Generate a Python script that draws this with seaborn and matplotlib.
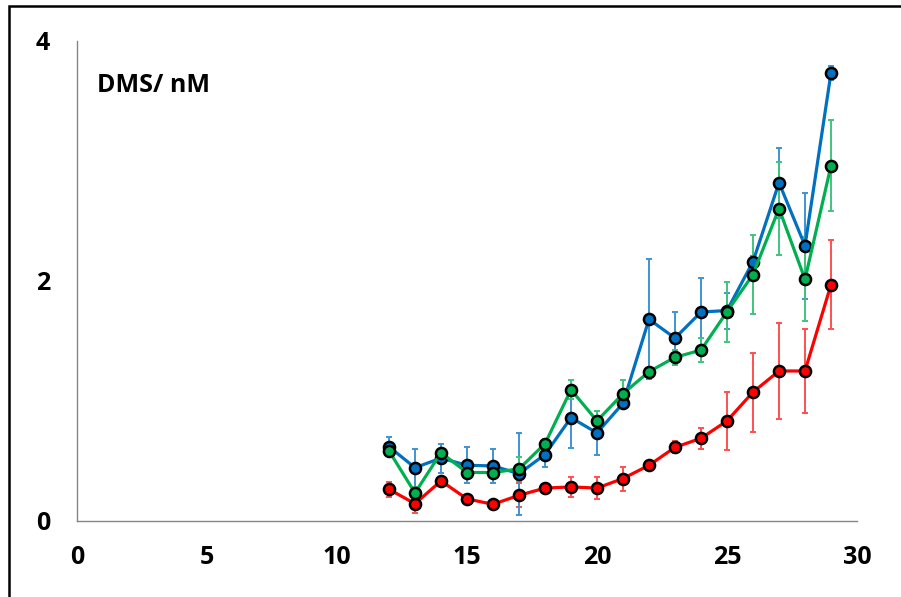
import matplotlib
matplotlib.use("Agg")
import matplotlib.pyplot as plt
import seaborn as sns
import pandas as pd
from matplotlib.patches import Rectangle

days = list(range(12, 30))
blue = [0.615, 0.44, 0.52, 0.46, 0.455, 0.39, 0.55, 0.857, 0.73, 0.977,
        1.677, 1.52, 1.737, 1.75, 2.157, 2.815, 2.29, 3.73]
blue_err = [0.08, 0.16, 0.12, 0.15, 0.14, 0.34, 0.10, 0.25, 0.18, 0.03,
            0.50, 0.22, 0.28, 0.15, 0.05, 0.29, 0.44, 0.06]
green = [0.58, 0.23, 0.565, 0.40, 0.40, 0.43, 0.64, 1.09, 0.83, 1.057,
         1.24, 1.36, 1.42, 1.74, 2.05, 2.60, 2.01, 2.957]
green_err = [0.04, 0.05, 0.03, 0.04, 0.04, 0.10, 0.04, 0.08, 0.08, 0.11,
             0.03, 0.06, 0.10, 0.25, 0.33, 0.39, 0.35, 0.38]
red = [0.26, 0.14, 0.33, 0.18, 0.135, 0.21, 0.27, 0.28, 0.27, 0.35,
       0.46, 0.61, 0.685, 0.83, 1.07, 1.246, 1.246, 1.965]
red_err = [0.06, 0.075, 0.02, 0.02, 0.02, 0.10, 0.02, 0.08, 0.09, 0.10,
           0.02, 0.05, 0.09, 0.24, 0.33, 0.40, 0.35, 0.37]

x_ticks = [0, 5, 10, 15, 20, 25, 30]
y_ticks = [0, 2, 4]
label = "DMS/ nM"

sns.set_style("white")
plt.rcParams['font.family'] = ['Open Sans', 'DejaVu Sans']

fig = plt.figure(figsize=(9.01, 5.97), dpi=100)
ax = fig.add_axes([77/901, 1-520.5/597, (857-77)/901, (520.5-40.5)/597])

series = [("red", red, red_err, "#FF0000", "#FF5050"),
          ("blue", blue, blue_err, "#0070C0", "#3F93D3"),
          ("green", green, green_err, "#00B050", "#40C47C")]

for name, vals, errs, col, ecol in series:
    ax.errorbar(days, vals, yerr=errs, fmt='none', ecolor=ecol, elinewidth=1.4,
                capsize=2.5, capthick=1.4, zorder=2)

for name, vals, errs, col, ecol in series:
    df = pd.DataFrame({"day": days, "val": vals})
    sns.lineplot(data=df, x="day", y="val", ax=ax, color=col, linewidth=2.3,
                 marker='o', markersize=8, markeredgecolor='black',
                 markeredgewidth=1.8, markerfacecolor=col, zorder=3)

ax.set_xlim(0, 30)
ax.set_ylim(0, 4)
ax.set_xticks(x_ticks)
ax.set_yticks(y_ticks)
ax.set_xlabel("")
ax.set_ylabel("")
for s in ["top", "right"]:
    ax.spines[s].set_visible(False)
for s in ["left", "bottom"]:
    ax.spines[s].set_color("#868686")
    ax.spines[s].set_linewidth(1.0)
ax.tick_params(axis='both', direction='out', length=6.5, width=1.0,
               color="#868686", labelsize=18, labelcolor='black')
ax.tick_params(axis='y', pad=13)
ax.tick_params(axis='x', pad=11)
for t in ax.get_xticklabels() + ax.get_yticklabels():
    t.set_fontweight('bold')

ax.text(0.77, 3.625, label, fontsize=18, fontweight='bold', ha='left',
        va='center', color='black')

fig.patches.append(Rectangle((9/901, -0.1), 1.2, 1.1 - 6/597,
                             transform=fig.transFigure, fill=False,
                             edgecolor='black', linewidth=1.8))

fig.savefig("out.png", dpi=100)
